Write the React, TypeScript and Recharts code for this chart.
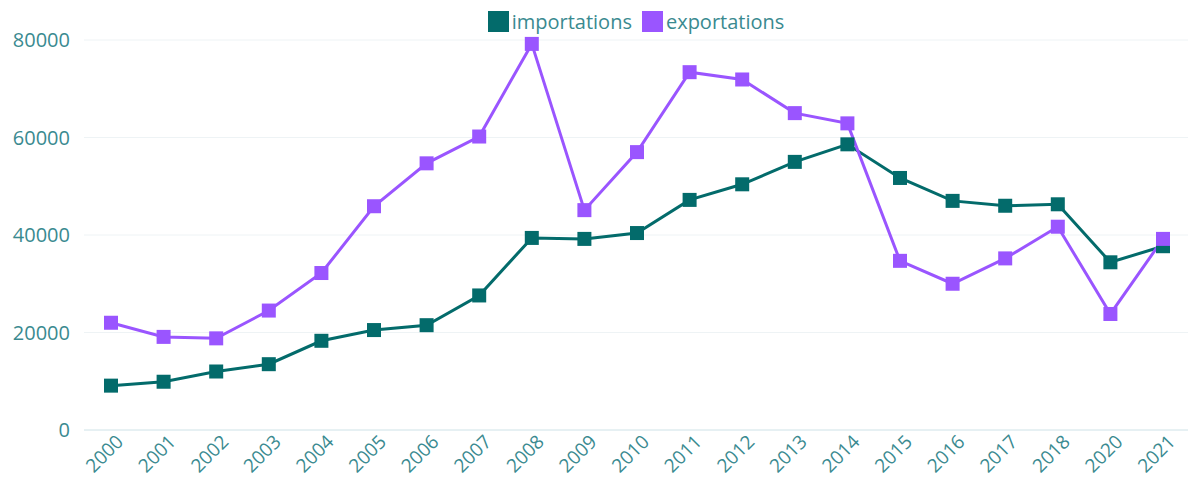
import React from "react";
import { LineChart, Line, XAxis, YAxis, CartesianGrid, Legend } from "recharts";

const years = [
  "2000", "2001", "2002", "2003", "2004", "2005", "2006", "2007", "2008", "2009", "2010",
  "2011", "2012", "2013", "2014", "2015", "2016", "2017", "2018", "2020", "2021",
];

const importations = [
  9100, 9900, 12000, 13500, 18300, 20500, 21500, 27600, 39400, 39200, 40400,
  47200, 50400, 55000, 58600, 51700, 47000, 46000, 46300, 34400, 37700,
];

const exportations = [
  22000, 19100, 18800, 24500, 32200, 45900, 54700, 60200, 79200, 45100, 57000,
  73400, 71900, 65000, 62900, 34700, 30000, 35200, 41700, 23800, 39200,
];

const yTicks = [0, 20000, 40000, 60000, 80000];

const TEAL = "#036b6b";
const PURPLE = "#9a55ff";
const TEXT = "#3a8a90";
const FONT = "'Open Sans', sans-serif";

const data = years.map((year, i) => ({
  year,
  importations: importations[i],
  exportations: exportations[i],
}));

function squareDot(color: string) {
  return (props: any) => {
    const { cx, cy, index } = props;
    if (cx == null || cy == null) return <g key={index} />;
    return <rect key={index} x={cx - 7} y={cy - 7} width={14} height={14} fill={color} />;
  };
}

function XTick(props: any) {
  const { x, y, payload } = props;
  return (
    <g transform={`translate(${x},${y})`}>
      <text
        x={0}
        y={0}
        dy={13}
        dx={6}
        textAnchor="end"
        fill={TEXT}
        fontSize={19}
        fontFamily={FONT}
        transform="rotate(-45)"
      >
        {payload.value}
      </text>
    </g>
  );
}

// legend sits centred over the plot area, not the whole svg
function LegendContent() {
  const items = [
    { name: "importations", color: TEAL },
    { name: "exportations", color: PURPLE },
  ];
  return (
    <div
      style={{
        display: "flex",
        justifyContent: "center",
        gap: 10,
        paddingLeft: 84,
        fontFamily: FONT,
      }}
    >
      {items.map((it) => (
        <div key={it.name} style={{ display: "flex", alignItems: "center", gap: 3 }}>
          <span style={{ width: 21, height: 21, background: it.color, display: "inline-block" }} />
          <span style={{ color: TEXT, fontSize: 20 }}>{it.name}</span>
        </div>
      ))}
    </div>
  );
}

export default function App() {
  return (
    <div style={{ position: "absolute", left: 0, top: 0, background: "#fff" }}>
      <LineChart
        width={1188}
        height={488}
        data={data}
        margin={{ top: 8, right: 0, left: 0, bottom: 0 }}
      >
        <CartesianGrid vertical={false} stroke="#eef3f5" />
        <XAxis
          dataKey="year"
          interval={0}
          height={58}
          padding={{ left: 27, right: 25 }}
          axisLine={{ stroke: "#d6e8ec" }}
          tickLine={false}
          tick={<XTick />}
        />
        <YAxis
          domain={[0, 80000]}
          ticks={yTicks}
          width={84}
          axisLine={false}
          tickLine={false}
          tickSize={0}
          tickMargin={14}
          tick={{ fill: TEXT, fontSize: 20, fontFamily: FONT }}
        />
        <Legend verticalAlign="top" height={32} content={<LegendContent />} />
        <Line
          dataKey="importations"
          stroke={TEAL}
          strokeWidth={3}
          dot={squareDot(TEAL)}
          activeDot={false}
          isAnimationActive={false}
        />
        <Line
          dataKey="exportations"
          stroke={PURPLE}
          strokeWidth={3}
          dot={squareDot(PURPLE)}
          activeDot={false}
          isAnimationActive={false}
        />
      </LineChart>
    </div>
  );
}
